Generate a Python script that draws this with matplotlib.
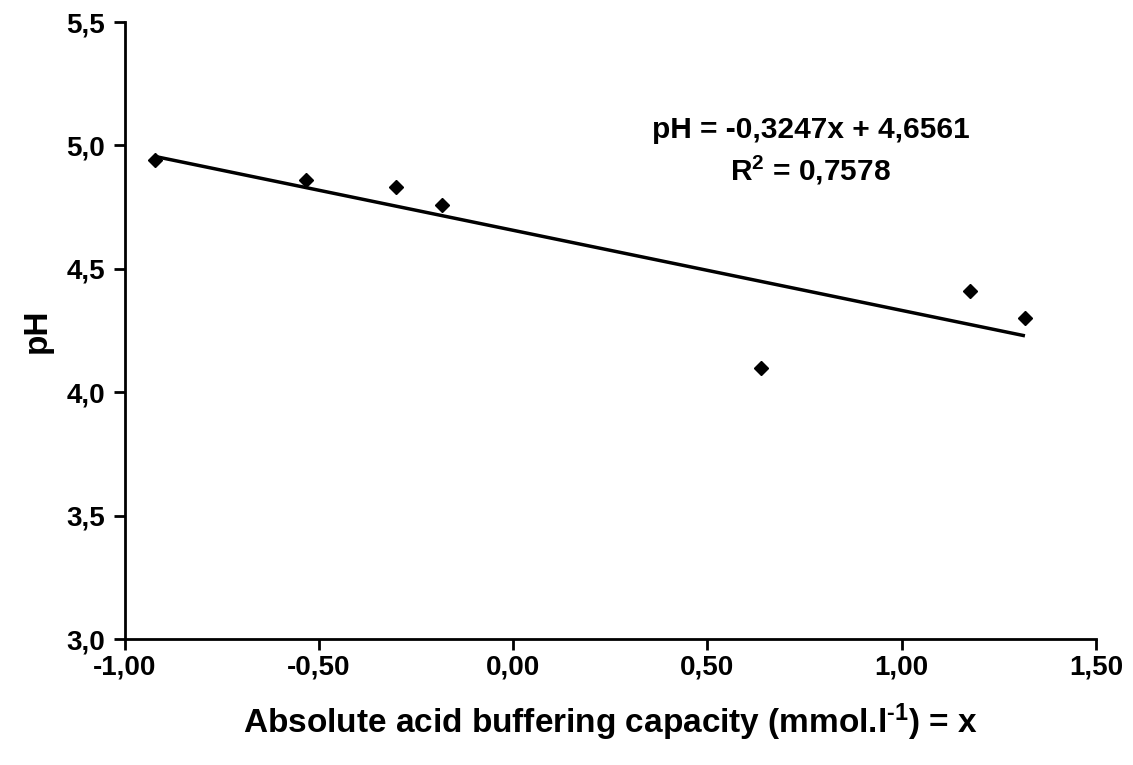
import numpy as np
import matplotlib
matplotlib.use("Agg")
import matplotlib.pyplot as plt
from matplotlib.ticker import FuncFormatter, MultipleLocator

# ===== data =====
buffer_capacity = [-0.922, -0.532, -0.302, -0.182, 0.637, 1.176, 1.317]
ph_values = [4.94, 4.86, 4.83, 4.76, 4.10, 4.41, 4.30]
slope = -0.3247
intercept = 4.6561
r_squared = 0.7578

plt.rcParams["font.family"] = ["Liberation Sans", "DejaVu Sans"]
plt.rcParams["font.weight"] = "bold"
plt.rcParams["mathtext.fontset"] = "custom"
plt.rcParams["mathtext.rm"] = "Liberation Sans:bold"
plt.rcParams["mathtext.bf"] = "Liberation Sans:bold"
plt.rcParams["mathtext.default"] = "bf"


def comma_fmt(decimals):
    return FuncFormatter(lambda v, pos: f"{v:.{decimals}f}".replace(".", ","))


fig = plt.figure(figsize=(11.33, 7.65), dpi=100)
ax = fig.add_axes([0.1099, 0.1647, 0.8575, 0.8065])

x = np.array(buffer_capacity)
y = np.array(ph_values)

# trend line over the data range
xl = np.array([x.min(), x.max()])
ax.plot(xl, slope * xl + intercept, color="black", lw=2.5, solid_capstyle="butt")
ax.plot(x, y, linestyle="none", marker="D", ms=7.5, color="black", zorder=3)

ax.set_xlim(-1.0, 1.5)
ax.set_ylim(3.0, 5.5)
ax.xaxis.set_major_locator(MultipleLocator(0.5))
ax.yaxis.set_major_locator(MultipleLocator(0.5))
ax.xaxis.set_major_formatter(comma_fmt(2))
ax.yaxis.set_major_formatter(comma_fmt(1))

for side in ("top", "right"):
    ax.spines[side].set_visible(False)
for side in ("left", "bottom"):
    ax.spines[side].set_linewidth(2.0)
ax.tick_params(direction="out", length=8, width=2.0, labelsize=20, pad=6)
ax.tick_params(axis="x", pad=3)

ax.set_xlabel("Absolute acid buffering capacity (mmol.l$^{\u20101}$) = x",
              fontsize=24, fontweight="bold", labelpad=15)
ax.set_ylabel("pH", fontsize=24, fontweight="bold", labelpad=10)

eq = f"pH = {slope:.4f}x + {intercept:.4f}".replace(".", ",")
r2 = f"R$^{{2}}$ = {r_squared:.4f}".replace(".", ",")
ax.text(0.765, 4.975, eq + "\n" + r2, ha="center", va="center",
        fontsize=21.5, fontweight="bold", linespacing=1.35)

fig.savefig("out.png", dpi=100)
